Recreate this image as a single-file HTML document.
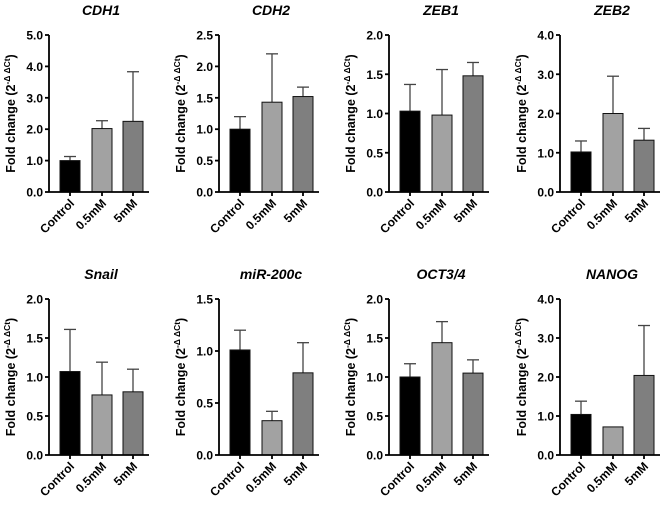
<!DOCTYPE html>
<html><head><meta charset="utf-8">
<style>
html,body{margin:0;padding:0;background:#fff;}
svg{display:block;font-family:"Liberation Sans",Arial,sans-serif;}
</style></head>
<body>
<svg id="chart" width="669" height="505" viewBox="0 0 669 505"></svg>
<script>
const genes = ["CDH1","CDH2","ZEB1","ZEB2","Snail","miR-200c","OCT3/4","NANOG"];
const groups = ["Control","0.5mM","5mM"];
const yMax = [5,2.5,2,4,2,1.5,2,4];
const yStep = [1,0.5,0.5,1,0.5,0.5,0.5,1];
const meanCDH1 = [1.0,2.02,2.25];
const meanCDH2 = [1.0,1.43,1.52];
const meanZEB1 = [1.03,0.98,1.48];
const meanZEB2 = [1.02,2.0,1.32];
const meanSnail = [1.07,0.77,0.81];
const meanMir200c = [1.01,0.33,0.79];
const meanOCT34 = [1.0,1.44,1.05];
const meanNANOG = [1.04,0.72,2.04];
const errTopCDH1 = [1.13,2.27,3.83];
const errTopCDH2 = [1.2,2.2,1.67];
const errTopZEB1 = [1.37,1.56,1.65];
const errTopZEB2 = [1.3,2.95,1.62];
const errTopSnail = [1.61,1.19,1.1];
const errTopMir200c = [1.2,0.42,1.08];
const errTopOCT34 = [1.17,1.71,1.22];
const errTopNANOG = [1.38,0.72,3.32];
const means = [meanCDH1,meanCDH2,meanZEB1,meanZEB2,meanSnail,meanMir200c,meanOCT34,meanNANOG];
const errTops = [errTopCDH1,errTopCDH2,errTopZEB1,errTopZEB2,errTopSnail,errTopMir200c,errTopOCT34,errTopNANOG];
const fills = ["#000000","#a2a2a2","#7f7f7f"];

const svg = document.getElementById('chart');
const NS = "http://www.w3.org/2000/svg";
function mk(tag, attrs, parent){const e=document.createElementNS(NS,tag);for(const k in attrs)e.setAttribute(k,attrs[k]);parent.appendChild(e);return e;}

const axisX = [49,219,389,560];
const rowTop = [35,299];
const rowBottom = [192,455];
const barOff = [21,53,84];
const barW = 20;

genes.forEach((g,i)=>{
  const col=i%4,row=Math.floor(i/4);
  const ax=axisX[col], top=rowTop[row], bot=rowBottom[row];
  const y = v => bot - v/yMax[i]*(bot-top);
  const grp = mk('g',{},svg);
  
  
  const t = mk('text',{x:ax+52,y:top-20,'text-anchor':'middle','font-size':14,'font-weight':'bold','font-style':'italic'},grp);
  t.textContent=g;
  
  
  const yt = mk('text',{transform:`translate(${ax-34},${(top+bot)/2}) rotate(-90)`,'text-anchor':'middle','font-size':12.5,'font-weight':'bold'},grp);
  yt.innerHTML='Fold change (2<tspan dy="-5" font-size="8.5">-Δ ΔCt</tspan><tspan dy="5">)</tspan>';
  
  
  means[i].forEach((m,j)=>{
    const cx = ax+barOff[j];
    const et = errTops[i][j];
    if(et>m){
      const el=mk('line',{x1:cx,x2:cx,y1:y(m),y2:y(et),stroke:'#444','stroke-width':1.3},grp);
      
      
      const cap=mk('line',{x1:cx-6,x2:cx+6,y1:y(et),y2:y(et),stroke:'#444','stroke-width':1.3},grp);
      
      
    }
    const r=mk('rect',{x:cx-barW/2,y:y(m),width:barW,height:bot-y(m),fill:fills[j],stroke:'#111','stroke-width':1},grp);
    
    
    const lx=cx+5, ly=bot+12;
    const xl=mk('text',{x:lx,y:ly,transform:`rotate(-45 ${lx} ${ly})`,'text-anchor':'end','font-size':12,'font-weight':'bold'},grp);
    xl.textContent=groups[j];
    
    
    const tk=mk('line',{x1:cx,x2:cx,y1:bot,y2:bot+4,stroke:'#000','stroke-width':1.8},grp);
    
    
  });
  const ya=mk('line',{x1:ax,x2:ax,y1:top,y2:bot,stroke:'#000','stroke-width':1.8},grp);
  
  
  const xa=mk('line',{x1:ax,x2:ax+100,y1:bot,y2:bot,stroke:'#000','stroke-width':1.8},grp);
  
  
  const n=Math.round(yMax[i]/yStep[i]);
  for(let k=0;k<=n;k++){
    const v=k*yStep[i];
    const tk=mk('line',{x1:ax-4,x2:ax,y1:y(v),y2:y(v),stroke:'#000','stroke-width':1.8},grp);
    
    
    const tl=mk('text',{x:ax-6,y:y(v)+4.5,'text-anchor':'end','font-size':12,'font-weight':'bold'},grp);
    tl.textContent=v.toFixed(1);
    
    
  }
});
</script>
</body></html>
